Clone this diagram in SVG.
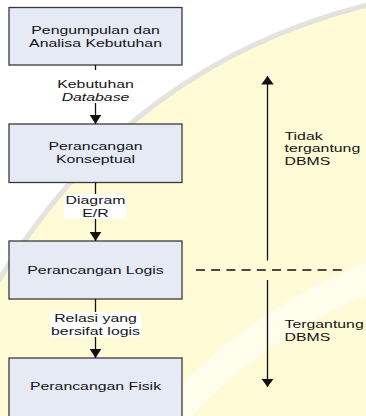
<svg xmlns="http://www.w3.org/2000/svg" width="366" height="416" viewBox="0 0 366 416">
  <style>
    .box { fill: #E5EAF4; stroke: #3A3A3A; stroke-width: 1.3; }
    .t { font-family: "Liberation Sans", Arial, sans-serif; font-size: 11px; fill: #141414; }
    .c { text-anchor: middle; }
    .conn { stroke: #111; stroke-width: 1.3; fill: none; }
    .lblbg { fill: #FFFFFF; }
  </style>
  <defs>
    <marker id="arrow" viewBox="0 0 10 10" refX="10" refY="5" markerUnits="userSpaceOnUse" markerWidth="9" markerHeight="11.5" orient="auto" preserveAspectRatio="none">
      <path d="M0,0 L10,5 L0,10 z" fill="#111"/>
    </marker>
    <marker id="arrowR" viewBox="0 0 10 10" refX="10" refY="5" markerUnits="userSpaceOnUse" markerWidth="8.5" markerHeight="12.5" orient="auto" preserveAspectRatio="none">
      <path d="M0,0 L10,5 L0,10 z" fill="#111"/>
    </marker>
  </defs>

  <g id="background">
    <rect x="0" y="0" width="366" height="416" fill="#FFFFFF"/>
    <path d="M-10 295 Q 125 60 380 2 L 380 420 L -10 420 Z" fill="#FFFBD6"/>
    <path d="M-10 295 Q 125 60 380 2" fill="none" stroke="#DCDCDC" stroke-width="5" opacity="0.8"/>
    <path d="M150 440 Q 250 320 390 270" fill="none" stroke="#FFFFFF" stroke-width="30" opacity="0.5"/>
  </g>

  <g id="node-1">
    <rect class="box" x="9" y="7.5" width="173" height="57.5"/>
    <text class="t c" transform="translate(95.5,0) scale(1.44,1)" x="0" y="34.25">Pengumpulan dan</text>
    <text class="t c" transform="translate(95.5,0) scale(1.44,1)" x="0" y="46.75">Analisa Kebutuhan</text>
  </g>
  <g id="node-2">
    <rect class="box" x="9" y="124" width="173" height="58.5"/>
    <text class="t c" transform="translate(95.5,0) scale(1.44,1)" x="0" y="150.5">Perancangan</text>
    <text class="t c" transform="translate(95.5,0) scale(1.44,1)" x="0" y="163.5">Konseptual</text>
  </g>
  <g id="node-3">
    <rect class="box" x="9" y="241" width="173" height="58"/>
    <text class="t c" transform="translate(95.5,0) scale(1.44,1)" x="0" y="274">Perancangan Logis</text>
  </g>
  <g id="node-4">
    <rect class="box" x="9" y="358" width="173" height="62"/>
    <text class="t c" transform="translate(95.5,0) scale(1.44,1)" x="0" y="390.5">Perancangan Fisik</text>
  </g>

  <g id="connectors">
    <line class="conn" x1="95.5" y1="65" x2="95.5" y2="124" marker-end="url(#arrow)"/>
    <line class="conn" x1="95.5" y1="182.5" x2="95.5" y2="241" marker-end="url(#arrow)"/>
    <line class="conn" x1="95.5" y1="299" x2="95.5" y2="358" marker-end="url(#arrow)"/>

    <g id="label-1">
      <rect class="lblbg" x="58" y="70" width="75" height="33"/>
      <text class="t c" transform="translate(95.5,0) scale(1.44,1)" x="0" y="88.25">Kebutuhan</text>
      <text class="t c" transform="translate(95.5,0) scale(1.44,1)" x="0" y="100.75" font-style="italic">Database</text>
    </g>
    <g id="label-2">
      <rect class="lblbg" x="64" y="194" width="62" height="25"/>
      <text class="t c" transform="translate(95.5,0) scale(1.44,1)" x="0" y="204.25">Diagram</text>
      <text class="t c" transform="translate(95.5,0) scale(1.44,1)" x="0" y="216.75">E/R</text>
    </g>
    <g id="label-3">
      <rect class="lblbg" x="50" y="312" width="91" height="25"/>
      <text class="t c" transform="translate(95.5,0) scale(1.44,1)" x="0" y="322.25">Relasi yang</text>
      <text class="t c" transform="translate(95.5,0) scale(1.44,1)" x="0" y="334.75">bersifat logis</text>
    </g>

    <line class="conn" x1="267.5" y1="260.5" x2="267.5" y2="76" marker-end="url(#arrowR)"/>
    <line class="conn" x1="267.5" y1="280" x2="267.5" y2="387" marker-end="url(#arrowR)"/>
    <line class="conn" x1="196" y1="270" x2="342" y2="270" stroke-dasharray="9 6.2"/>
  </g>

  <g id="annotations">
    <text class="t" transform="translate(284.5,0) scale(1.44,1)" x="0" y="140">Tidak</text>
    <text class="t" transform="translate(284.5,0) scale(1.44,1)" x="0" y="152.5">tergantung</text>
    <text class="t" transform="translate(284.5,0) scale(1.44,1)" x="0" y="165">DBMS</text>
    <text class="t" transform="translate(284.5,0) scale(1.44,1)" x="0" y="328.5">Tergantung</text>
    <text class="t" transform="translate(284.5,0) scale(1.44,1)" x="0" y="341">DBMS</text>
  </g>
</svg>
